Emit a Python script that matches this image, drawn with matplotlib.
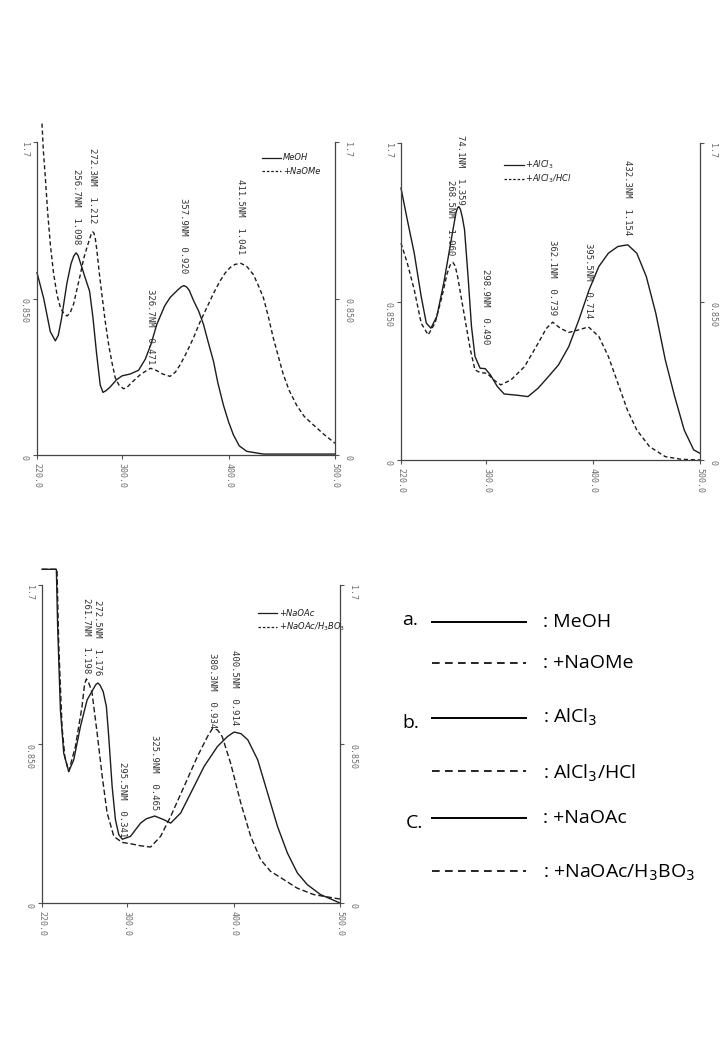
import matplotlib.pyplot as plt

# --- panel a: MeOH / +NaOMe ---
a_wl_meoh = [220, 226.3, 232.5, 237.2, 240, 243, 248, 252, 254.5, 256.7, 258.5, 261, 265.4,
             269.4, 272.5, 276, 279.4, 282, 285, 288.8, 295, 300, 307.6, 315.4, 321.7, 327,
             332.6, 340, 345, 352, 355.5, 357.9, 360.5, 363, 367, 372, 376.4, 381, 385.8, 390,
             395.2, 400, 404.5, 410, 417, 432.7, 460, 500]
a_abs_meoh = [0.99, 0.85, 0.67, 0.62, 0.65, 0.74, 0.93, 1.04, 1.08, 1.098, 1.085, 1.04, 0.96,
              0.89, 0.75, 0.55, 0.38, 0.34, 0.35, 0.37, 0.41, 0.43, 0.44, 0.46, 0.52, 0.60,
              0.71, 0.81, 0.855, 0.895, 0.913, 0.92, 0.913, 0.895, 0.84, 0.78, 0.71, 0.61, 0.51,
              0.39, 0.27, 0.18, 0.11, 0.05, 0.02, 0.005, 0.005, 0.005]
a_wl_naome = [224.7, 226, 227.8, 230, 232.5, 235.5, 238.8, 242, 245, 248.2, 251, 254.4, 257.5,
              260.7, 264, 266.9, 269.5, 271, 272.3, 273.5, 274.8, 276.3, 278.5, 281, 284, 287.3,
              290.5, 293.5, 297, 301.3, 304, 307.6, 312, 317, 322, 326.7, 332, 338, 345, 350,
              354.5, 360, 367, 373, 379.5, 386, 392, 397, 401.4, 406, 411.5, 417, 423.3, 428,
              432.7, 437, 442, 447, 451.5, 457, 464, 471, 479.6, 490, 500]
a_abs_naome = [1.80, 1.65, 1.51, 1.32, 1.145, 0.99, 0.87, 0.80, 0.77, 0.755, 0.77, 0.82, 0.90,
               0.98, 1.07, 1.127, 1.175, 1.20, 1.212, 1.205, 1.175, 1.11, 0.99, 0.87, 0.73,
               0.60, 0.50, 0.42, 0.38, 0.36, 0.365, 0.385, 0.41, 0.436, 0.455, 0.471, 0.46,
               0.44, 0.427, 0.45, 0.49, 0.55, 0.636, 0.72, 0.80, 0.88, 0.945, 0.99, 1.018, 1.035,
               1.041, 1.025, 0.98, 0.92, 0.855, 0.76, 0.636, 0.53, 0.436, 0.35, 0.27, 0.21,
               0.164, 0.11, 0.064]
a_peak_wl = [256.7, 272.3, 326.7, 357.9, 411.5]
a_peak_abs = [1.098, 1.212, 0.471, 0.920, 1.041]
a_peak_txt = ['256.7NM  1.098', '272.3NM  1.212', '326.7NM  0.471', '357.9NM  0.920',
              '411.5NM  1.041']

# --- panel b: +AlCl3 / +AlCl3/HCl ---
b_wl_alcl = [220, 225.9, 232.4, 238.9, 243.7, 248, 253.5, 260, 266.5, 271.4, 272.8, 274.1,
             275.6, 277.5, 279.5, 282.8, 286, 289.3, 294.1, 298.9, 303.8, 310.2, 316.6, 329.3,
             338.9, 348.4, 358, 367.5, 377.1, 386.6, 396.2, 405.3, 414.2, 423.1, 432.3, 440.8,
             449.7, 458.6, 467.5, 476.3, 485.2, 494.1, 500]
b_abs_alcl = [1.458, 1.288, 1.109, 0.877, 0.734, 0.707, 0.769, 0.948, 1.163, 1.324, 1.35,
              1.359, 1.345, 1.30, 1.235, 0.984, 0.716, 0.555, 0.492, 0.490, 0.456, 0.394, 0.354,
              0.347, 0.340, 0.385, 0.447, 0.510, 0.608, 0.752, 0.913, 1.038, 1.109, 1.145,
              1.154, 1.109, 0.984, 0.787, 0.537, 0.340, 0.161, 0.054, 0.036]
b_wl_hcl = [220, 225.9, 232.4, 238.9, 245.4, 251.9, 258.4, 263.3, 266, 268.5, 270.8, 273,
            279.5, 285, 289.3, 294.1, 300.6, 307, 313.4, 322.9, 335.7, 348.4, 356, 362.1,
            369.1, 377.1, 386.6, 395.5, 405.3, 414.2, 423.1, 432, 440.8, 452.7, 467.5, 482.2,
            500]
b_abs_hcl = [1.163, 1.056, 0.913, 0.734, 0.671, 0.734, 0.877, 1.002, 1.045, 1.060, 1.04,
             0.984, 0.769, 0.590, 0.483, 0.469, 0.465, 0.429, 0.403, 0.429, 0.501, 0.626, 0.705,
             0.739, 0.707, 0.684, 0.698, 0.714, 0.662, 0.555, 0.412, 0.268, 0.161, 0.072,
             0.018, 0.004, 0.0]
b_peak_wl = [274.1, 268.5, 298.9, 362.1, 395.5, 432.3]
b_peak_abs = [1.359, 1.060, 0.490, 0.739, 0.714, 1.154]
b_peak_txt = ['74.1NM  1.359', '268.5NM  1.060', '298.9NM  0.490', '362.1NM  0.739',
              '395.5NM  0.714', '432.3NM  1.154']

# --- panel c: +NaOAc / +NaOAc/H3BO3 ---
c_wl_naoac = [220, 233.5, 234.7, 237.3, 240.4, 245.1, 249.8, 256.1, 262.4, 268.6, 270.6,
              272.5, 274.5, 277.5, 280.5, 282.7, 285.9, 289, 292.2, 295.5, 303.1, 312.6, 318,
              325.9, 334.6, 340.9, 350.3, 359.7, 372.3, 384.9, 394.3, 400.5, 407, 413.4, 422.7,
              432, 441.3, 450.6, 460, 469.3, 481.7, 500]
c_abs_naoac = [1.784, 1.784, 1.477, 1.032, 0.801, 0.703, 0.765, 0.943, 1.086, 1.148, 1.168,
               1.176, 1.165, 1.13, 1.05, 0.89, 0.623, 0.445, 0.365, 0.341, 0.356, 0.427, 0.45,
               0.465, 0.445, 0.427, 0.481, 0.587, 0.730, 0.837, 0.890, 0.914, 0.905, 0.872,
               0.765, 0.587, 0.409, 0.267, 0.160, 0.098, 0.045, 0.0]
c_wl_boric = [220, 234.1, 235.7, 238.8, 241.5, 245.1, 251.4, 257.6, 260, 261.7, 263.3, 265,
              267.1, 271.8, 276.6, 281.2, 287.5, 295.3, 303.1, 312.6, 322, 331.4, 340.9, 353.5,
              366, 375.5, 380.3, 385, 389.3, 397.2, 406.8, 416.1, 425.5, 434.8, 447.2, 459.6,
              475.2, 500]
c_abs_boric = [1.784, 1.784, 1.388, 0.943, 0.78, 0.703, 0.837, 1.050, 1.17, 1.198, 1.185, 1.16,
               1.121, 0.908, 0.676, 0.481, 0.356, 0.324, 0.317, 0.306, 0.299, 0.356, 0.463,
               0.623, 0.783, 0.890, 0.934, 0.925, 0.890, 0.748, 0.534, 0.356, 0.231, 0.169,
               0.125, 0.080, 0.045, 0.021]
c_peak_wl = [261.7, 272.5, 295.5, 325.9, 380.3, 400.5]
c_peak_abs = [1.198, 1.176, 0.341, 0.465, 0.934, 0.914]
c_peak_txt = ['261.7NM  1.198', '272.5NM  1.176', '295.5NM  0.341', '325.9NM  0.465',
              '380.3NM  0.934', '400.5NM  0.914']

x_ticks = [220, 300, 400, 500]
x_ticklabels = ['220.0', '300.0', '400.0', '500.0']
y_ticks = [0, 0.85, 1.7]
y_ticklabels = ['0', '0.850', '1.7']

W, H = 720, 1040
fig = plt.figure(figsize=(W / 100, H / 100), dpi=100)
fig.patch.set_facecolor('white')

ink = '#1c1c1c'
grey = '#6e6e6e'
mono = 'DejaVu Sans Mono'
dash = (0, (3, 2))


def make_panel(left, right, bottom, top, y17):
    # axes placed in pixel terms of the original scan
    ax = fig.add_axes([left / W, 1 - bottom / H, (right - left) / W, (bottom - top) / H])
    ax.set_xlim(220, 500)
    ax.set_ylim(0, (bottom - top) / (bottom - y17) * 1.7)
    ax.spines['top'].set_visible(False)
    for s in ('left', 'right', 'bottom'):
        ax.spines[s].set_color('#444')
        ax.spines[s].set_linewidth(0.9)
    ax.spines['left'].set_bounds(0, 1.7)
    ax.spines['right'].set_bounds(0, 1.7)
    ax.set_xticks(x_ticks)
    ax.set_xticklabels(x_ticklabels, rotation=-90, va='top', ha='center',
                       family=mono, fontsize=6, color=grey)
    ax.set_yticks(y_ticks)
    ax.set_yticklabels(y_ticklabels, rotation=-90, va='top',
                       family=mono, fontsize=6, color=grey)
    ax.tick_params(right=True, labelright=True, length=3, width=0.8, color='#555', pad=3)
    for lab in ax.get_yticklabels(which='both'):
        lab.set_va('top')
    ax.patch.set_alpha(0)
    return ax


def peak_labels(ax, wl, ab, txt, offs, px_per_abs, shift=None):
    if shift is None:
        shift = [0] * len(wl)
    for w, a, t, o, s in zip(wl, ab, txt, offs, shift):
        ax.text(w + s, a + o / px_per_abs, t, rotation=-90, ha='center', va='bottom',
                family=mono, fontsize=6.5, color='#333')


def mini_legend(ax, x0, y0, t1, t2):
    ax.plot([x0, x0 + 0.065], [y0, y0], color=ink, lw=0.9, transform=ax.transAxes, clip_on=False)
    ax.plot([x0, x0 + 0.065], [y0 - 0.04, y0 - 0.04], color=ink, lw=0.9, ls=(0, (2, 1.5)),
            transform=ax.transAxes, clip_on=False)
    ax.text(x0 + 0.07, y0, t1, transform=ax.transAxes, fontsize=6, style='italic',
            va='center', color=ink)
    ax.text(x0 + 0.07, y0 - 0.04, t2, transform=ax.transAxes, fontsize=6, style='italic',
            va='center', color=ink)


# panel a
ax1 = make_panel(37, 335, 455, 110, 142)
ax1.plot(a_wl_meoh, a_abs_meoh, color=ink, lw=1.0, clip_on=False)
ax1.plot(a_wl_naome, a_abs_naome, color=ink, lw=1.0, ls=dash, clip_on=False)
peak_labels(ax1, a_peak_wl, a_peak_abs, a_peak_txt, [9, 9, 4, 12, 9], 313 / 1.7)
mini_legend(ax1, 0.755, 0.862, 'MeOH', '+NaOMe')

# panel b
ax2 = make_panel(401, 700, 460, 110, 143)
ax2.plot(b_wl_alcl, b_abs_alcl, color=ink, lw=1.0, clip_on=False)
ax2.plot(b_wl_hcl, b_abs_hcl, color=ink, lw=1.0, ls=dash, clip_on=False)
peak_labels(ax2, b_peak_wl, b_peak_abs, b_peak_txt, [2, 7, 24, 7, 9, 10], 317 / 1.7,
            shift=[2.0, -2.5, 0, 0, 0, 0])
mini_legend(ax2, 0.345, 0.843, '+AlCl$_3$', '+AlCl$_3$/HCl')

# panel c
ax3 = make_panel(42, 340, 903, 560, 585)
ax3.plot(c_wl_naoac, c_abs_naoac, color=ink, lw=1.0, clip_on=False)
ax3.plot(c_wl_boric, c_abs_boric, color=ink, lw=1.0, ls=(0, (4, 2)), clip_on=False)
peak_labels(ax3, c_peak_wl, c_peak_abs, c_peak_txt, [6, 8, 2, 6, 0, 7], 318 / 1.7)
mini_legend(ax3, 0.725, 0.845, '+NaOAc', '+NaOAc/H$_3$BO$_3$')

# key on the right, drawn on a pixel-coordinate overlay
key = fig.add_axes([0, 0, 1, 1])
key.set_xlim(0, W)
key.set_ylim(H, 0)
key.axis('off')
key.patch.set_alpha(0)

key_letters = ['a.', '', 'b.', '', 'C.', '']
key_texts = [': MeOH', ': +NaOMe', ': AlCl$_3$', ': AlCl$_3$/HCl', ': +NaOAc',
             ': +NaOAc/H$_3$BO$_3$']
key_solid = [True, False, True, False, True, False]
key_rows = [622, 663, 718, 771, 818, 871]
key_text_y = [622, 663, 717, 773, 818, 873]
key_letter_x = [402, 0, 402, 0, 406, 0]
key_letter_y = [620, 0, 723, 0, 823, 0]

for i in range(6):
    y = key_rows[i]
    if key_solid[i]:
        key.plot([432, 526], [y, y], color='black', lw=1.4)
    else:
        key.plot([432, 526], [y, y], color='black', lw=1.2, ls=(0, (4.6, 3.2)))
    key.text(543, key_text_y[i], key_texts[i], fontsize=14, family='Open Sans',
             va='center', ha='left', color='black')
    if key_letters[i]:
        key.text(key_letter_x[i], key_letter_y[i], key_letters[i], fontsize=14,
                 family='Open Sans', va='center', ha='left', color='black')

fig.savefig('out.png', dpi=100, facecolor='white')
